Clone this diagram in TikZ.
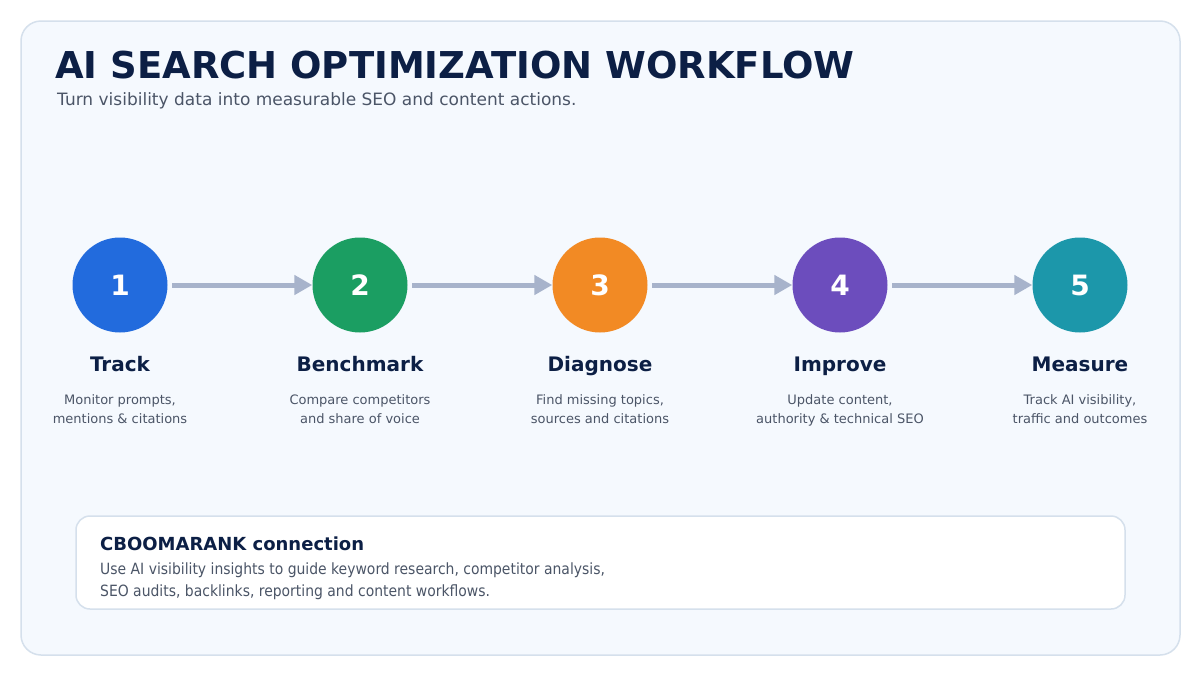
\documentclass[tikz,border=0pt]{standalone}
\usepackage{fontspec}
\setmainfont{DejaVu Sans}
\newfontfamily\condfont{DejaVu Sans Condensed}
\usetikzlibrary{arrows.meta}
\definecolor{navy}{HTML}{0C1F45}
\definecolor{slate}{HTML}{4B5567}
\definecolor{panel}{HTML}{F5F9FE}
\definecolor{rim}{HTML}{D5E0EC}
\definecolor{flow}{HTML}{A7B3CB}
\definecolor{stepblue}{HTML}{226BDD}
\definecolor{stepgreen}{HTML}{1B9E62}
\definecolor{steporange}{HTML}{F28A24}
\definecolor{steppurple}{HTML}{6C4DBD}
\definecolor{stepteal}{HTML}{1C97AA}
\begin{document}
\begin{tikzpicture}[x=1pt,y=-1pt,line join=round,
  stepdot/.style={circle,inner sep=0pt,minimum size=95pt,text=white,font=\fontsize{28}{30}\selectfont\bfseries},
  steplabel/.style={anchor=base,text=navy,font=\fontsize{20}{24}\selectfont\bfseries},
  stepnote/.style={anchor=base,text=slate,font=\fontsize{13}{19}\selectfont},
  flowarrow/.style={-{Triangle[length=18pt,width=19pt]},draw=flow,line width=5pt,shorten <=4.5pt}]
	\useasboundingbox (0,0) rectangle (1200,675);
	\fill[white] (0,0) rectangle (1200,675);
	\draw[rim,fill=panel,line width=1.5pt,rounded corners=20pt] (21,21) rectangle (1180,655);
	\node[anchor=base west,inner sep=0pt,text=navy,font=\fontsize{37}{44}\selectfont\bfseries] (title) at (55,78) {AI SEARCH OPTIMIZATION WORKFLOW};
	\node[anchor=base west,inner sep=0pt,text=slate,font=\fontsize{17}{21}\selectfont] (subtitle) at (57,105) {Turn visibility data into measurable SEO and content actions.};
	\node[stepdot,fill=stepblue] (track) at (120,285) {1};
	\node[stepdot,fill=stepgreen] (benchmark) at (360,285) {2};
	\node[stepdot,fill=steporange] (diagnose) at (600,285) {3};
	\node[stepdot,fill=steppurple] (improve) at (840,285) {4};
	\node[stepdot,fill=stepteal] (measure) at (1080,285) {5};
	\draw[flowarrow] (track.east) -- (benchmark.west);
	\draw[flowarrow] (benchmark.east) -- (diagnose.west);
	\draw[flowarrow] (diagnose.east) -- (improve.west);
	\draw[flowarrow] (improve.east) -- (measure.west);
	\node[steplabel] (tracklabel) at (120,371) {Track};
	\node[steplabel] (benchmarklabel) at (360,371) {Benchmark};
	\node[steplabel] (diagnoselabel) at (600,371) {Diagnose};
	\node[steplabel] (improvelabel) at (840,371) {Improve};
	\node[steplabel] (measurelabel) at (1080,371) {Measure};
	\node[stepnote] (tracknote) at (120,404) {Monitor prompts,};
	\node[stepnote] (tracknoteb) at (120,423) {mentions \& citations};
	\node[stepnote] (benchmarknote) at (360,404) {Compare competitors};
	\node[stepnote] (benchmarknoteb) at (360,423) {and share of voice};
	\node[stepnote] (diagnosenote) at (600,404) {Find missing topics,};
	\node[stepnote] (diagnosenoteb) at (600,423) {sources and citations};
	\node[stepnote] (improvenote) at (840,404) {Update content,};
	\node[stepnote] (improvenoteb) at (840,423) {authority \& technical SEO};
	\node[stepnote] (measurenote) at (1080,404) {Track AI visibility,};
	\node[stepnote] (measurenoteb) at (1080,423) {traffic and outcomes};
	\draw[rim,fill=white,line width=1.5pt,rounded corners=14pt] (76,516) rectangle (1125,609);
	\node[anchor=base west,inner sep=0pt,text=navy,font=\fontsize{18}{22}\selectfont\bfseries] (boxtitle) at (100,550) {CBOOMARANK connection};
	\node[anchor=base west,inner sep=0pt,text=slate,font=\fontsize{15.5}{22}\selectfont\condfont] (boxline) at (100,574) {Use AI visibility insights to guide keyword research, competitor analysis,};
	\node[anchor=base west,inner sep=0pt,text=slate,font=\fontsize{15.5}{22}\selectfont\condfont] (boxlineb) at (100,596) {SEO audits, backlinks, reporting and content workflows.};
\end{tikzpicture}
\end{document}
